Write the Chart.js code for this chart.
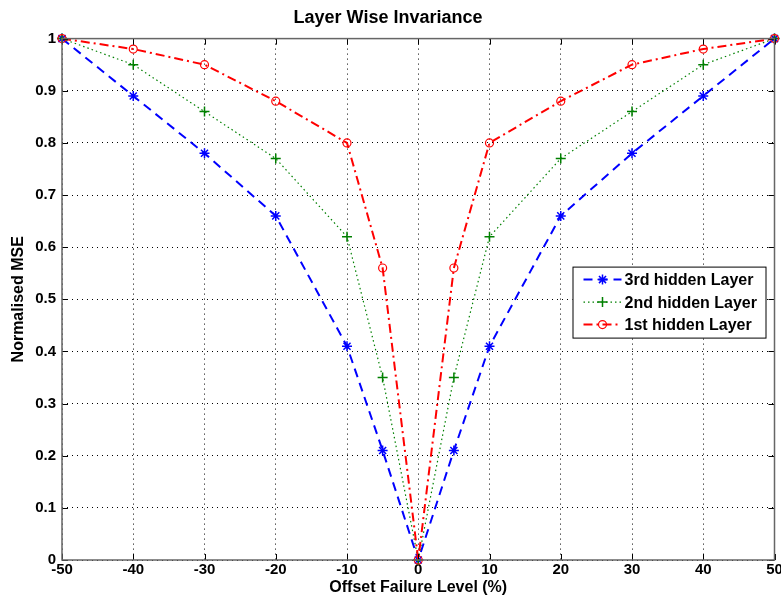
<!DOCTYPE html>
<html>
<head>
<meta charset="utf-8">
<script src="https://cdn.jsdelivr.net/npm/chart.js@4/dist/chart.umd.min.js"></script>
<style>
  html, body { margin: 0; padding: 0; background: #fff; }
  #wrap { width: 781px; height: 605px; }
</style>
</head>
<body>
<div id="wrap"><canvas id="myChart"></canvas></div>
<script>
const offsets = [-50, -40, -30, -20, -10, -5, 0, 5, 10, 20, 30, 40, 50];
const thirdLayer = [1, 0.89, 0.78, 0.66, 0.41, 0.21, 0, 0.21, 0.41, 0.66, 0.78, 0.89, 1];
const secondLayer = [1, 0.95, 0.86, 0.77, 0.62, 0.35, 0, 0.35, 0.62, 0.77, 0.86, 0.95, 1];
const firstLayer = [1, 0.98, 0.95, 0.88, 0.80, 0.56, 0, 0.56, 0.80, 0.88, 0.95, 0.98, 1];
const xTicks = [-50, -40, -30, -20, -10, 0, 10, 20, 30, 40, 50];
const yTicks = [0, 0.1, 0.2, 0.3, 0.4, 0.5, 0.6, 0.7, 0.8, 0.9, 1];
const seriesNames = ['3rd hidden Layer', '2nd hidden Layer', '1st hidden Layer'];

const FONT = '"Liberation Sans", Arial, sans-serif';

function toPoints(vals) {
  return offsets.map((x, i) => ({ x: x, y: vals[i] }));
}

// box round the plot and inward ticks, matlab style
const boxPlugin = {
  id: 'box',
  afterDatasetsDraw(chart) {
    const { ctx, chartArea: a, scales } = chart;
    ctx.save();
    ctx.strokeStyle = '#000';
    ctx.lineWidth = 1;
    ctx.beginPath();
    xTicks.forEach(t => {
      const px = Math.round(scales.x.getPixelForValue(t)) + 0.5;
      ctx.moveTo(px, a.bottom); ctx.lineTo(px, a.bottom - 6);
      ctx.moveTo(px, a.top); ctx.lineTo(px, a.top + 6);
    });
    yTicks.forEach(t => {
      const py = Math.round(scales.y.getPixelForValue(t)) + 0.5;
      ctx.moveTo(a.left, py); ctx.lineTo(a.left + 6, py);
      ctx.moveTo(a.right, py); ctx.lineTo(a.right - 6, py);
    });
    ctx.stroke();
    ctx.strokeStyle = '#666';
    ctx.lineWidth = 1.5;
    ctx.strokeRect(a.left, a.top, a.right - a.left, a.bottom - a.top);
    ctx.restore();
  }
};

// legend drawn inside the axes
const insideLegend = {
  id: 'insideLegend',
  afterDraw(chart) {
    const { ctx, chartArea: a } = chart;
    const left = a.right - 202, top = a.top + 228, w = 193, h = 71;
    ctx.save();
    ctx.fillStyle = '#fff';
    ctx.fillRect(left, top, w, h);
    ctx.strokeStyle = '#000';
    ctx.lineWidth = 1;
    ctx.strokeRect(left + 0.5, top + 0.5, w, h);
    chart.data.datasets.forEach((ds, i) => {
      const y = top + 13 + i * 22.5;
      ctx.strokeStyle = ds.borderColor;
      ctx.lineWidth = ds.borderWidth;
      ctx.setLineDash(ds.borderDash);
      ctx.beginPath();
      ctx.moveTo(left + 11, y); ctx.lineTo(left + 49, y);
      ctx.stroke();
      ctx.setLineDash([]);
      ctx.fillStyle = ds.pointBackgroundColor;
      ctx.strokeStyle = ds.pointBorderColor;
      ctx.lineWidth = ds.pointBorderWidth;
      Chart.helpers.drawPoint(ctx, {
        pointStyle: ds.pointStyle, radius: ds.pointRadius, borderWidth: ds.pointBorderWidth
      }, left + 30, y);
      ctx.fillStyle = '#000';
      ctx.font = 'bold 16px ' + FONT;
      ctx.textBaseline = 'middle';
      ctx.fillText(ds.label, left + 52, y + 1);
    });
    ctx.restore();
  }
};

const ctx = document.getElementById('myChart').getContext('2d');
new Chart(ctx, {
  type: 'line',
  data: {
    datasets: [
      {
        label: seriesNames[0],
        data: toPoints(thirdLayer),
        borderColor: '#0000ff',
        borderWidth: 2,
        borderDash: [9, 6],
        pointStyle: 'star',
        pointRadius: 5,
        pointBorderWidth: 1.5,
        pointBorderColor: '#0000ff',
        pointBackgroundColor: '#0000ff',
        order: 3
      },
      {
        label: seriesNames[1],
        data: toPoints(secondLayer),
        borderColor: '#008000',
        borderWidth: 1.2,
        borderDash: [1.5, 3],
        pointStyle: 'cross',
        pointRadius: 5,
        pointBorderWidth: 1.5,
        pointBorderColor: '#008000',
        pointBackgroundColor: '#008000',
        order: 2
      },
      {
        label: seriesNames[2],
        data: toPoints(firstLayer),
        borderColor: '#ff0000',
        borderWidth: 2,
        borderDash: [9, 4, 2, 4],
        pointStyle: 'circle',
        pointRadius: 4,
        pointBorderWidth: 1.2,
        pointBorderColor: '#ff0000',
        pointBackgroundColor: 'rgba(0,0,0,0)',
        order: 1
      }
    ]
  },
  options: {
    responsive: true,
    maintainAspectRatio: false,
    animation: false,
    clip: false,
    layout: { padding: { left: 0, right: 5, top: 0, bottom: 0 } },
    plugins: {
      legend: { display: false },
      tooltip: { enabled: false },
      title: {
        display: true,
        text: 'Layer Wise Invariance',
        color: '#000',
        font: { family: FONT, size: 18, weight: 'bold' },
        padding: { top: 7, bottom: 10 }
      }
    },
    scales: {
      x: {
        type: 'linear',
        min: -50, max: 50,
        afterBuildTicks: s => { s.ticks = xTicks.map(v => ({ value: v })); },
        afterFit: s => { s.height = 45; s.paddingLeft = 0; s.paddingRight = 0; },
        ticks: {
          color: '#000', font: { family: FONT, size: 15, weight: 'bold' }, padding: 1, maxRotation: 0,
          callback: v => String(v)
        },
        grid: { color: '#000', lineWidth: 1, drawTicks: false },
        border: { display: false, dash: [1, 4] },
        title: {
          display: true, text: 'Offset Failure Level (%)', color: '#000',
          font: { family: FONT, size: 16, weight: 'bold' }, padding: { top: 0, bottom: 8 }
        }
      },
      y: {
        type: 'linear',
        min: 0, max: 1,
        afterBuildTicks: s => { s.ticks = yTicks.map(v => ({ value: v })); },
        afterFit: s => { s.width = 62; },
        ticks: {
          color: '#000', font: { family: FONT, size: 15, weight: 'bold' }, padding: 6,
          callback: v => String(v)
        },
        grid: { color: '#000', lineWidth: 1, drawTicks: false },
        border: { display: false, dash: [1, 4] },
        title: {
          display: true, text: 'Normalised MSE', color: '#000',
          font: { family: FONT, size: 16, weight: 'bold' }, padding: { top: 9, bottom: 0 }
        }
      }
    }
  },
  plugins: [boxPlugin, insideLegend]
});
</script>
</body>
</html>
